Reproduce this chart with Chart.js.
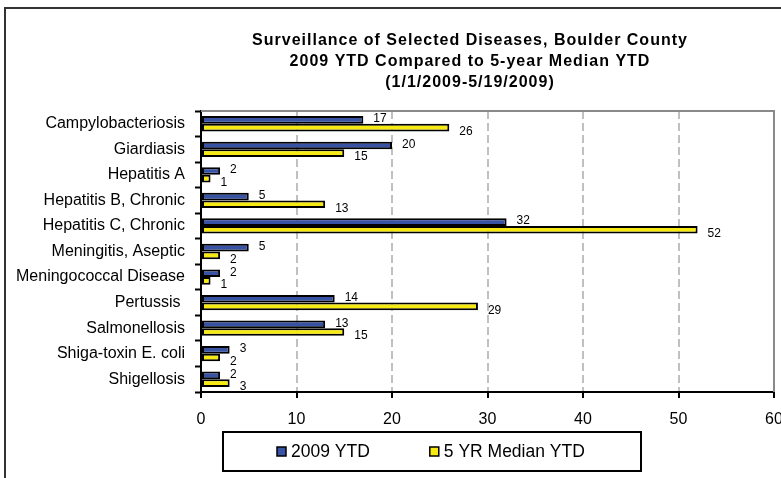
<!DOCTYPE html>
<html>
<head>
<meta charset="utf-8">
<script src="https://cdn.jsdelivr.net/npm/chart.js@4/dist/chart.umd.min.js"></script>
<style>
  html, body { margin: 0; padding: 0; background: #fff; overflow: hidden; }
  #wrap { width: 781px; height: 478px; overflow: hidden; }
  canvas { display: block; }
</style>
</head>
<body>
<div id="wrap"><canvas id="c" width="800" height="478"></canvas></div>
<script>
// Disease categories (top to bottom)
const categories = [
  'Campylobacteriosis',
  'Giardiasis',
  'Hepatitis A',
  'Hepatitis B, Chronic',
  'Hepatitis C, Chronic',
  'Meningitis, Aseptic',
  'Meningococcal Disease',
  'Pertussis ',
  'Salmonellosis',
  'Shiga-toxin E. coli',
  'Shigellosis'
];

// Case counts
const ytd2009 = [17, 20, 2, 5, 32, 5, 2, 14, 13, 3, 2];
const median5yr = [26, 15, 1, 13, 52, 2, 1, 29, 15, 2, 3];

const seriesNames = ['2009 YTD', '5 YR Median YTD'];
const xTicks = [0, 10, 20, 30, 40, 50, 60];

const titleLines = [
  'Surveillance of Selected Diseases, Boulder County',
  '2009 YTD Compared to 5-year Median YTD',
  '(1/1/2009-5/19/2009)'
];

const FONT = '"Liberation Sans", Arial, sans-serif';
const BLUE = '#3953A4';
const YELLOW = '#F7EA12';

// Outer frame, title text and boxed legend
const decorations = {
  id: 'decorations',
  beforeDraw(chart) {
    const ctx = chart.ctx;
    ctx.save();
    ctx.fillStyle = '#fff';
    ctx.fillRect(0, 0, chart.width, chart.height);
    ctx.strokeStyle = '#333';
    ctx.lineWidth = 2;
    ctx.beginPath();
    ctx.moveTo(5, chart.height + 5);
    ctx.lineTo(5, 8);
    ctx.lineTo(chart.width + 5, 8);
    ctx.stroke();
    ctx.restore();
  },
  afterDraw(chart) {
    const ctx = chart.ctx;
    const a = chart.chartArea;
    ctx.save();
    // plot frame: top and right edges
    ctx.strokeStyle = '#8a8a8a';
    ctx.lineWidth = 2;
    ctx.beginPath();
    ctx.moveTo(a.left, a.top);
    ctx.lineTo(a.right, a.top);
    ctx.lineTo(a.right, a.bottom);
    ctx.stroke();

    // title
    ctx.fillStyle = '#000';
    ctx.font = 'bold 16px ' + FONT;
    if ('letterSpacing' in ctx) ctx.letterSpacing = '1px';
    ctx.textAlign = 'center';
    ctx.textBaseline = 'middle';
    const ty = [41, 62, 83];
    titleLines.forEach((t, i) => ctx.fillText(t, 470, ty[i]));
    if ('letterSpacing' in ctx) ctx.letterSpacing = '0px';

    // legend
    const bx = 223, by = 432, bw = 418, bh = 39;
    ctx.strokeStyle = '#000';
    ctx.lineWidth = 2;
    ctx.strokeRect(bx, by, bw, bh);
    ctx.font = '17.5px ' + FONT;
    ctx.textAlign = 'left';
    const sw = 9, gap = 5, between = 60;
    let x = bx + 54;
    const cy = by + bh / 2 + 1;
    chart.data.datasets.forEach((ds, i) => {
      ctx.fillStyle = ds.backgroundColor;
      ctx.fillRect(x, cy - sw / 2 - 1, sw, sw);
      ctx.lineWidth = 1.5;
      ctx.strokeStyle = '#000';
      ctx.strokeRect(x, cy - sw / 2 - 1, sw, sw);
      ctx.fillStyle = '#000';
      ctx.fillText(seriesNames[i], x + sw + gap, cy);
      x += sw + gap + ctx.measureText(seriesNames[i]).width + between;
    });
    ctx.restore();
  }
};

// Value labels at the end of each bar
const valueLabels = {
  id: 'valueLabels',
  afterDatasetsDraw(chart) {
    const ctx = chart.ctx;
    const nudges = [-1, 4];
    ctx.save();
    ctx.font = '12px ' + FONT;
    ctx.fillStyle = '#000';
    ctx.textAlign = 'left';
    ctx.textBaseline = 'middle';
    chart.data.datasets.forEach((ds, di) => {
      const meta = chart.getDatasetMeta(di);
      meta.data.forEach((bar, i) => {
        ctx.fillText(String(ds.data[i]), bar.x + 10, bar.y + nudges[di]);
      });
    });
    ctx.restore();
  }
};

new Chart(document.getElementById('c'), {
  type: 'bar',
  data: {
    labels: categories,
    datasets: [
      { label: seriesNames[0], data: ytd2009, backgroundColor: BLUE, borderColor: '#000', borderWidth: 2, borderSkipped: false },
      { label: seriesNames[1], data: median5yr, backgroundColor: YELLOW, borderColor: '#000', borderWidth: 2, borderSkipped: false }
    ]
  },
  options: {
    indexAxis: 'y',
    responsive: false,
    devicePixelRatio: 1,
    animation: false,
    categoryPercentage: 0.6,
    barPercentage: 1.0,
    layout: { padding: { top: 111, right: 26, left: 0, bottom: 0 } },
    plugins: { legend: { display: false }, title: { display: false }, tooltip: { enabled: false } },
    scales: {
      x: {
        min: xTicks[0],
        max: xTicks[xTicks.length - 1],
        afterBuildTicks(scale) { scale.ticks = xTicks.map(v => ({ value: v })); },
        afterFit(scale) { scale.height = 86; },
        ticks: { color: '#000', font: { family: FONT, size: 16 }, padding: 12, maxRotation: 0 },
        grid: { color: '#c0c0c0', lineWidth: 2, tickColor: '#000', tickWidth: 2, tickLength: 6, tickBorderDash: [] },
        border: { color: '#000', width: 2, dash: [8, 4] }
      },
      y: {
        afterFit(scale) { scale.width = 201; },
        ticks: { color: '#000', font: { family: FONT, size: 16 }, padding: 10 },
        grid: { drawOnChartArea: false, tickColor: '#000', tickWidth: 2, tickLength: 6, offset: true },
        border: { color: '#000', width: 2 }
      }
    }
  },
  plugins: [decorations, valueLabels]
});
</script>
</body>
</html>
